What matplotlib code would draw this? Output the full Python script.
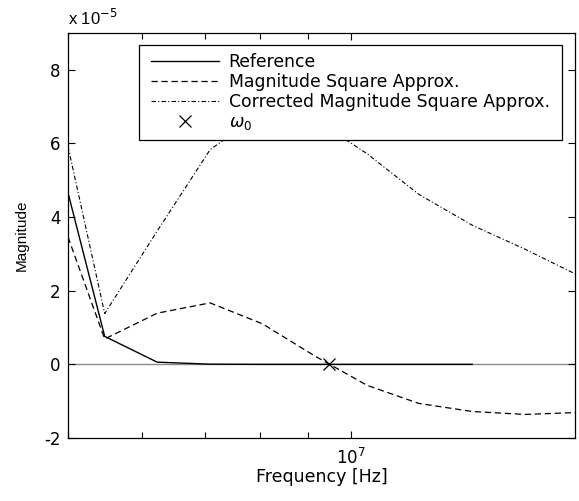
import matplotlib
matplotlib.use("Agg")
import matplotlib.pyplot as plt
from matplotlib.path import Path
from matplotlib.ticker import FuncFormatter, LogLocator, NullFormatter, FixedLocator

plt.rcParams['font.family'] = ['DejaVu Sans']
plt.rcParams['mathtext.fontset'] = 'dejavusans'

# Frequency grid [Hz]
freq = [5.0e6, 5.47e6, 6.22e6, 7.08e6, 8.05e6, 9.16e6,
        1.04e7, 1.18e7, 1.345e7, 1.53e7, 1.73e7]

# Magnitudes in units of 1e-5
reference = [4.66, 0.76, 0.06, 0.005, 0.0, 0.0, 0.0, 0.0, 0.0]
mag_sq_approx = [3.46, 0.69, 1.39, 1.67, 1.10, 0.22, -0.57, -1.06, -1.28, -1.36, -1.31]
corrected_approx = [5.92, 1.38, 3.62, 5.83, 6.85, 6.65, 5.72, 4.62, 3.78, 3.13, 2.46]

omega0_freq = 9.48e6
omega0_mag = 0.0

scale = 1e-5

fig = plt.figure(figsize=(5.79, 5.01), dpi=100)
ax = fig.add_axes([68 / 579, 63 / 501, (575 - 68) / 579, (438 - 33) / 501])

ax.axhline(0, color='#8c8c8c', lw=1.0, zorder=1)
ax.plot(freq[:len(reference)], [v * scale for v in reference], '-', color='black',
        lw=1.0, label='Reference', zorder=3)
ax.plot(freq, [v * scale for v in mag_sq_approx], color='black', lw=0.9,
        dashes=(5, 3), label='Magnitude Square Approx.', zorder=3)
ax.plot(freq, [v * scale for v in corrected_approx], color='black', lw=0.8,
        dashes=(4, 2, 1, 2), label='Corrected Magnitude Square Approx.', zorder=3)
ax.plot([omega0_freq], [omega0_mag * scale], 'x', color='black', ms=9, mew=0.9,
        label=r'$\omega_0$', zorder=4, linestyle='none')

ax.set_xscale('log')
ax.set_xlim(5.0e6, 1.73e7)
ax.set_ylim(-2 * scale, 9 * scale)

ax.xaxis.set_major_locator(FixedLocator([1e7]))
ax.xaxis.set_major_formatter(FuncFormatter(lambda x, p: r'$10^{7}$'))
ax.xaxis.set_minor_locator(LogLocator(base=10, subs=range(2, 10)))
ax.xaxis.set_minor_formatter(NullFormatter())

ax.yaxis.set_major_locator(FixedLocator([v * scale for v in (-2, 0, 2, 4, 6, 8)]))
ax.yaxis.set_major_formatter(FuncFormatter(lambda y, p: '%d' % round(y / scale)))

ax.tick_params(which='both', direction='in', top=True, right=True, labelsize=12,
               width=0.8, color='black')
ax.tick_params(which='major', length=5)
ax.tick_params(axis='y', which='major', pad=5.5)
ax.tick_params(axis='x', which='major', pad=7)
ax.tick_params(which='minor', length=4)
for s in ax.spines.values():
    s.set_linewidth(0.9)
    s.set_color('black')

ax.text(0.0, 1.012, r'x 10$^{-5}$', transform=ax.transAxes, fontsize=12,
        ha='left', va='bottom', family='Liberation Sans')

ax.set_xlabel('Frequency [Hz]', fontsize=12.5, labelpad=0)
ax.set_ylabel('Magnitude', fontsize=11, labelpad=11, family='Liberation Sans')

# Legend frame: wider side margins than top/bottom margins
SIDE_PAD = 4.5


def side_padded_box(x0, y0, width, height, mutation_size, *args):
    x1 = x0 + width + SIDE_PAD
    x0 = x0 - SIDE_PAD
    y1 = y0 + height
    verts = [(x0, y0), (x1, y0), (x1, y1), (x0, y1), (x0, y0)]
    codes = [Path.MOVETO, Path.LINETO, Path.LINETO, Path.LINETO, Path.CLOSEPOLY]
    return Path(verts, codes)


leg = ax.legend(loc='upper right', fontsize=12.4, handlelength=3.95,
                handletextpad=0.55, borderpad=0.45, labelspacing=0.12,
                frameon=True, fancybox=False, framealpha=1, borderaxespad=0)
leg.set_bbox_to_anchor(((562 - SIDE_PAD) / 579, 1 - 45 / 501), transform=fig.transFigure)
leg.get_frame().set_boxstyle(side_padded_box)
leg.get_frame().set_edgecolor('black')
leg.get_frame().set_linewidth(0.9)

fig.savefig('out.png', dpi=100)
